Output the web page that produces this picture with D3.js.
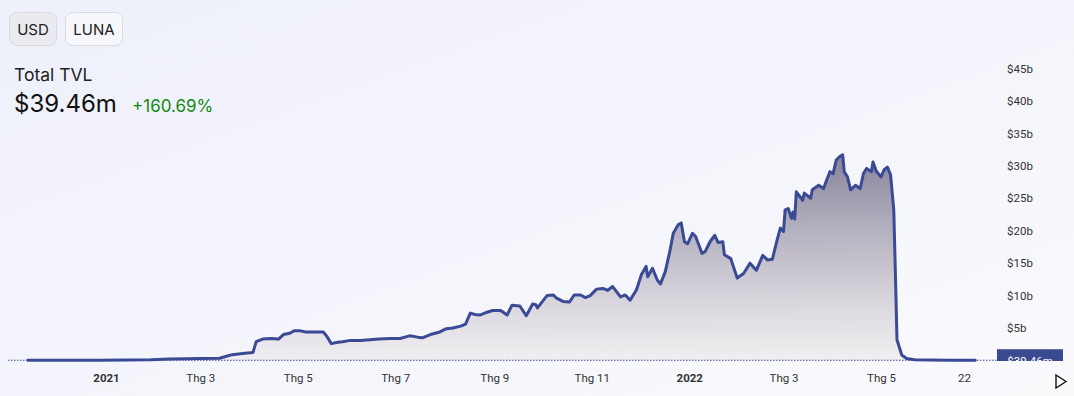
<!DOCTYPE html>
<html><head><meta charset="utf-8">
<script src="https://cdn.jsdelivr.net/npm/d3@7"></script>
<style>
html,body{margin:0;padding:0;}
body{width:1074px;height:396px;overflow:hidden;background:linear-gradient(160deg,#eef0fa 0%,#f4f5fc 50%,#fafafd 100%);}
svg{position:absolute;left:0;top:0;}
</style></head><body>
<svg id="c" width="1074" height="396"></svg>
<script>
// ---- data ----
const dates = ["2020-11-13","2020-12-03","2020-12-28","2021-01-29","2021-02-10","2021-03-01","2021-03-13","2021-03-18","2021-03-21","2021-03-29","2021-04-03","2021-04-05","2021-04-09","2021-04-14","2021-04-19","2021-04-22","2021-04-26","2021-04-29","2021-05-02","2021-05-06","2021-05-12","2021-05-17","2021-05-19","2021-05-22","2021-05-26","2021-05-29","2021-06-03","2021-06-09","2021-06-15","2021-06-21","2021-06-28","2021-07-04","2021-07-10","2021-07-15","2021-07-18","2021-07-23","2021-07-29","2021-08-02","2021-08-06","2021-08-11","2021-08-14","2021-08-17","2021-08-20","2021-08-23","2021-08-27","2021-08-31","2021-09-05","2021-09-09","2021-09-12","2021-09-17","2021-09-21","2021-09-25","2021-09-27","2021-09-28","2021-10-04","2021-10-08","2021-10-10","2021-10-14","2021-10-18","2021-10-21","2021-10-25","2021-10-28","2021-10-31","2021-11-04","2021-11-08","2021-11-11","2021-11-14","2021-11-19","2021-11-22","2021-11-25","2021-11-29","2021-12-02","2021-12-05","2021-12-06","2021-12-09","2021-12-12","2021-12-14","2021-12-17","2021-12-20","2021-12-22","2021-12-25","2021-12-27","2021-12-29","2021-12-31","2022-01-03","2022-01-05","2022-01-09","2022-01-11","2022-01-14","2022-01-17","2022-01-19","2022-01-22","2022-01-23","2022-01-27","2022-01-31","2022-02-04","2022-02-08","2022-02-12","2022-02-16","2022-02-19","2022-02-22","2022-02-25","2022-02-27","2022-03-01","2022-03-02","2022-03-04","2022-03-06","2022-03-07","2022-03-08","2022-03-09","2022-03-13","2022-03-14","2022-03-18","2022-03-19","2022-03-23","2022-03-26","2022-03-30","2022-04-01","2022-04-03","2022-04-05","2022-04-07","2022-04-08","2022-04-10","2022-04-12","2022-04-15","2022-04-18","2022-04-20","2022-04-22","2022-04-25","2022-04-26","2022-04-28","2022-05-01","2022-05-03","2022-05-05","2022-05-07","2022-05-09","2022-05-10","2022-05-11","2022-05-14","2022-05-17","2022-05-22","2022-06-01","2022-06-13","2022-06-29"];
// TVL in billions USD
const tvl = [0.02,0.03,0.05,0.1,0.25,0.3,0.35,0.7,0.9,1.1,1.25,2.9,3.3,3.4,3.3,4.0,4.2,4.6,4.6,4.4,4.4,4.4,3.8,2.6,2.8,2.9,3.1,3.1,3.2,3.3,3.4,3.4,3.8,3.6,3.5,4.0,4.4,4.9,5.0,5.3,5.6,7.3,7.1,7.0,7.4,7.7,7.7,7.0,8.5,8.4,6.9,8.7,8.6,8.1,10.0,10.1,9.6,9.1,9.0,10.1,10.1,9.7,10.0,11.0,11.1,10.8,11.4,9.8,10.1,9.3,10.9,13.2,14.5,12.9,14.2,12.4,11.8,13.7,17.0,19.6,20.9,21.2,18.3,18.0,19.6,19.1,16.5,16.8,18.3,19.3,18.2,18.3,16.3,15.7,12.7,13.4,15.0,13.9,16.2,15.5,15.6,18.6,20.4,19.9,23.2,23.4,21.9,22.9,21.8,26.0,24.7,25.8,25.0,26.3,27.0,26.5,29.1,28.8,30.9,31.4,31.7,29.1,28.3,26.3,27.0,26.5,28.8,29.6,29.1,30.6,29.2,28.3,29.4,29.8,28.6,23.2,13.5,3.2,0.85,0.3,0.12,0.06,0.045,0.03946];
const xTickDates = ["2021-01-01","2021-03-01","2021-05-01","2021-07-01","2021-09-01","2021-11-01","2022-01-01","2022-03-01","2022-05-01","2022-06-22"];
const xTickLabels = ["2021","Thg 3","Thg 5","Thg 7","Thg 9","Thg 11","2022","Thg 3","Thg 5","22"];
const xTickBold = [true,false,false,false,false,false,true,false,false,false];
const yTickValues = [5,10,15,20,25,30,35,40,45];
const yTickLabels = ["$5b","$10b","$15b","$20b","$25b","$30b","$35b","$40b","$45b"];
const buttons = ["USD","LUNA"];
const titleText = "Total TVL";
const currentText = "$39.46m";
const changeText = "+160.69%";
const lastLabel = "$39.46m";

// ---- drawing ----
const parse = d3.utcParse("%Y-%m-%d");
const data = dates.map((d,i)=>({date:parse(d), v:tvl[i]}));
const svg = d3.select("#c");
const lineColor = "#3a4a95";

const x = d3.scaleUtc().domain([parse("2021-01-01"), parse("2022-05-01")]).range([106, 881]);
const y = d3.scaleLinear().domain([0,45]).range([360.5, 68.5]);

const defs = svg.append("defs");
const grad = defs.append("linearGradient").attr("id","ag").attr("gradientUnits","userSpaceOnUse")
  .attr("x1",0).attr("x2",0).attr("y1",y(d3.max(tvl))).attr("y2",362);
grad.append("stop").attr("offset","0%").attr("stop-color","rgb(108,102,130)").attr("stop-opacity",0.8);
grad.append("stop").attr("offset","100%").attr("stop-color","rgb(238,234,234)").attr("stop-opacity",0.6);
defs.append("clipPath").attr("id","pane").append("rect").attr("x",0).attr("y",0).attr("width",1074).attr("height",361);

// buttons
const bx = [9.5, 65.5], bw = [47, 57], bfill = ["#ebebef","#f6f7fb"];
buttons.forEach((b,i)=>{
  svg.append("rect").attr("x",bx[i]).attr("y",12.5).attr("width",bw[i]).attr("height",33).attr("rx",7)
    .attr("fill",bfill[i]).attr("stroke","#d9d9df");
  svg.append("text").attr("x",bx[i]+bw[i]/2).attr("y",34.5).attr("text-anchor","middle")
    .attr("font-family","Inter, 'Noto Sans', sans-serif").attr("font-size",15).attr("fill","#222").text(b);
});
svg.append("text").attr("x",14).attr("y",81).attr("font-family","Inter, sans-serif").attr("font-size",17.5).attr("fill","#222").text(titleText);
svg.append("text").attr("x",14).attr("y",112).attr("font-family","Inter, sans-serif").attr("font-size",24).attr("fill","#111").text(currentText);
svg.append("text").attr("x",132).attr("y",112).attr("font-family","Inter, sans-serif").attr("font-size",17).attr("fill","#138a13").text(changeText);

// area + line
const area = d3.area().x(d=>x(d.date)).y0(y(0)).y1(d=>y(d.v));
const line = d3.line().x(d=>x(d.date)).y(d=>y(d.v));
svg.append("path").datum(data).attr("d",area).attr("fill","url(#ag)");
svg.append("path").datum(data).attr("d",line).attr("fill","none").attr("stroke",lineColor)
  .attr("stroke-width",3).attr("stroke-linejoin","round").attr("stroke-linecap","round");

// price line
const lastV = tvl[tvl.length-1];
svg.append("line").attr("x1",8).attr("x2",997).attr("y1",y(lastV)).attr("y2",y(lastV))
  .attr("stroke",lineColor).attr("stroke-width",1).attr("stroke-dasharray","1.5,1.5");

// y axis (right)
const yAxis = d3.axisRight(y).tickValues(yTickValues).tickFormat((d,i)=>yTickLabels[i]).tickSize(0).tickPadding(0);
const gy = svg.append("g").attr("transform","translate(1007,0)").call(yAxis);
gy.select(".domain").remove();
gy.selectAll("text").attr("font-family","Roboto, sans-serif").attr("font-size",11.5).attr("fill","#333");

// last value label (clipped by pane)
const lbl = svg.append("g").attr("clip-path","url(#pane)");
lbl.append("rect").attr("x",997).attr("y",y(lastV)-11).attr("width",66).attr("height",22).attr("fill","#3a4a8f");
lbl.append("text").attr("x",1030).attr("y",y(lastV)+4.5).attr("text-anchor","middle")
  .attr("font-family","Roboto, sans-serif").attr("font-size",11.5).attr("fill","#fff").text(lastLabel);

// x axis
const xAxis = d3.axisBottom(x).tickValues(xTickDates.map(parse)).tickFormat((d,i)=>xTickLabels[i]).tickSize(0).tickPadding(0);
const gx = svg.append("g").attr("transform","translate(0,378)").call(xAxis);
gx.select(".domain").remove();
gx.selectAll("text").attr("y",0).attr("dy","0.35em").attr("font-family","Roboto, sans-serif").attr("font-size",11.5)
  .attr("fill","#333").attr("font-weight",(d,i)=>xTickBold[i]?"bold":"normal");

// play triangle
svg.append("path").attr("d","M1056,375 L1066,381.5 L1056,388 Z").attr("fill","#fff").attr("stroke","#111").attr("stroke-width",1.4).attr("stroke-linejoin","miter");
</script>
</body></html>
